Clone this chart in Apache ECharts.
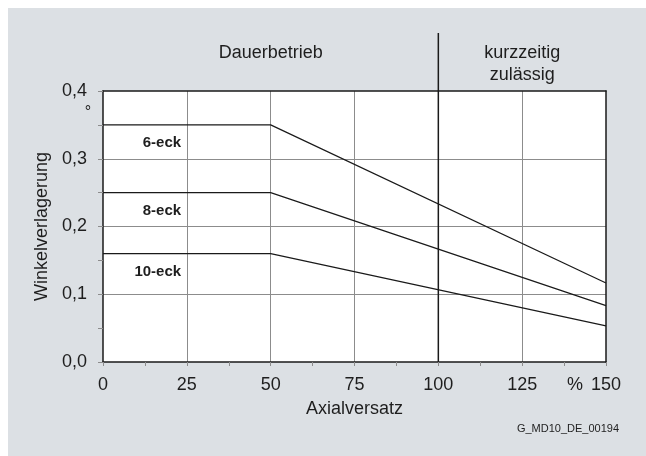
<!DOCTYPE html>
<html>
<head>
<meta charset="utf-8">
<script src="https://cdn.jsdelivr.net/npm/echarts@6/dist/echarts.min.js"></script>
<style>
  html, body { margin: 0; padding: 0; background: #fff; }
  #wrap { position: relative; width: 646px; height: 456px; background: #fff; }
  #panel { position: absolute; left: 8px; top: 8px; right: 0; bottom: 0; background: #dce0e4; }
  #chart { position: absolute; left: 0; top: 0; width: 646px; height: 456px; }
</style>
</head>
<body>
<div id="wrap"><div id="panel"></div><div id="chart"></div></div>
<script>
// Permissible angular misalignment vs. axial offset, by hub profile
const xTicks = [0, 25, 50, 75, 100, 125, 150];
const yTicks = [0, 0.1, 0.2, 0.3, 0.4];
const profiles = ['6-eck', '8-eck', '10-eck'];
const offsetPct = [0, 50, 150];
const angle6 = [0.35, 0.35, 0.1167];
const angle8 = [0.25, 0.25, 0.0833];
const angle10 = [0.16, 0.16, 0.0533];
const regionLimit = 100;   // Dauerbetrieb up to 100 %, beyond: kurzzeitig zulässig

const FONT = '"Liberation Sans", Arial, sans-serif';
const TXT = '#1e1e1e';
const GRIDC = '#8c8c8c';

const chart = echarts.init(document.getElementById('chart'), null, { renderer: 'canvas' });

function pairs(ys) { return offsetPct.map((x, i) => [x, ys[i]]); }
function comma(v) { return v.toFixed(1).replace('.', ','); }

const seriesData = [angle6, angle8, angle10];

chart.setOption({
  animation: false,
  backgroundColor: 'transparent',
  textStyle: { fontFamily: FONT },
  grid: { left: 103, right: 40, top: 91, bottom: 94, show: true, backgroundColor: '#fff', borderWidth: 0 },
  xAxis: [{
    type: 'value', min: xTicks[0], max: xTicks[xTicks.length - 1], interval: 25,
    position: 'bottom',
    name: 'Axialversatz', nameLocation: 'middle', nameGap: 38,
    nameTextStyle: { fontSize: 18, color: TXT, fontFamily: FONT },
    axisLine: { show: true, lineStyle: { color: '#1a1a1a', width: 1.5 } },
    axisTick: { show: true, length: 4, lineStyle: { color: GRIDC } },
    minorTick: { show: true, splitNumber: 2, length: 4, lineStyle: { color: GRIDC } },
    axisLabel: { fontSize: 18, color: TXT, margin: 14, fontFamily: FONT },
    splitLine: { show: true, showMinLine: false, showMaxLine: false, lineStyle: { color: GRIDC, width: 1 } }
  }, {
    type: 'value', min: 0, max: 150, position: 'top',
    axisLine: { show: true, onZero: false, lineStyle: { color: '#1a1a1a', width: 1.5 } },
    axisTick: { show: false }, axisLabel: { show: false }, splitLine: { show: false }
  }],
  yAxis: [{
    type: 'value', min: yTicks[0], max: yTicks[yTicks.length - 1], interval: 0.1,
    name: 'Winkelverlagerung', nameLocation: 'middle', nameGap: 49, nameRotate: 90,
    nameTextStyle: { fontSize: 18, color: TXT, fontFamily: FONT },
    axisLine: { show: true, lineStyle: { color: '#1a1a1a', width: 1.5 } },
    axisTick: { show: true, length: 5, lineStyle: { color: GRIDC } },
    minorTick: { show: true, splitNumber: 2, length: 5, lineStyle: { color: GRIDC } },
    axisLabel: { fontSize: 18, color: TXT, margin: 16, fontFamily: FONT, formatter: comma },
    splitLine: { show: true, showMinLine: false, showMaxLine: false, lineStyle: { color: GRIDC, width: 1 } }
  }, {
    type: 'value', min: 0, max: 0.4, position: 'right',
    axisLine: { show: true, onZero: false, lineStyle: { color: '#1a1a1a', width: 1.5 } },
    axisTick: { show: false }, axisLabel: { show: false }, splitLine: { show: false }
  }],
  series: profiles.map((name, i) => ({
    name, type: 'line', xAxisIndex: 0, yAxisIndex: 0,
    data: pairs(seriesData[i]),
    showSymbol: false, symbol: 'none',
    lineStyle: { color: '#1a1a1a', width: 1.2 },
    z: 5
  }))
});

// Annotations placed through the axis scales
const px = (x, y) => chart.convertToPixel({ xAxisIndex: 0, yAxisIndex: 0 }, [x, y]);
const [x0, yBottom] = px(0, 0);
const [xLim] = px(regionLimit, 0);
const [xMax, yTop] = px(150, 0.4);

const graphics = [
  // divider between continuous and short-term operation
  { type: 'line', shape: { x1: xLim, y1: 33, x2: xLim, y2: yBottom }, style: { stroke: '#1a1a1a', lineWidth: 1.5 }, z: 20 },
  { type: 'text', x: (x0 + xLim) / 2, y: 53, style: { text: 'Dauerbetrieb', fontSize: 18, fontFamily: FONT, fill: TXT, align: 'center', verticalAlign: 'middle' }, z: 20 },
  { type: 'text', x: (xLim + xMax) / 2, y: 64, style: { text: 'kurzzeitig\nzulässig', fontSize: 18, lineHeight: 22, fontFamily: FONT, fill: TXT, align: 'center', verticalAlign: 'middle' }, z: 20 },
  // unit marks
  { type: 'text', x: 88, y: yTop + 14, style: { text: '°', fontSize: 16, fontFamily: FONT, fill: TXT, align: 'center', verticalAlign: 'top' }, z: 20 },
  { type: 'text', x: xMax - 31, y: yBottom + 23, style: { text: '%', fontSize: 18, fontFamily: FONT, fill: TXT, align: 'center', verticalAlign: 'middle' }, z: 20 },
  { type: 'text', x: 619, y: 429, style: { text: 'G_MD10_DE_00194', fontSize: 11, fontFamily: FONT, fill: TXT, align: 'right', verticalAlign: 'middle' }, z: 20 }
];

// profile labels sit just under their plateau lines
seriesData.forEach((ys, i) => {
  const [lx, ly] = px(23, ys[0]);
  graphics.push({ type: 'text', x: lx + 1, y: ly + 18, style: { text: profiles[i], fontSize: 15, fontWeight: 'bold', fontFamily: FONT, fill: '#1e1e1e', align: 'right', verticalAlign: 'middle' }, z: 20 });
});

chart.setOption({ graphic: graphics });
</script>
</body>
</html>
